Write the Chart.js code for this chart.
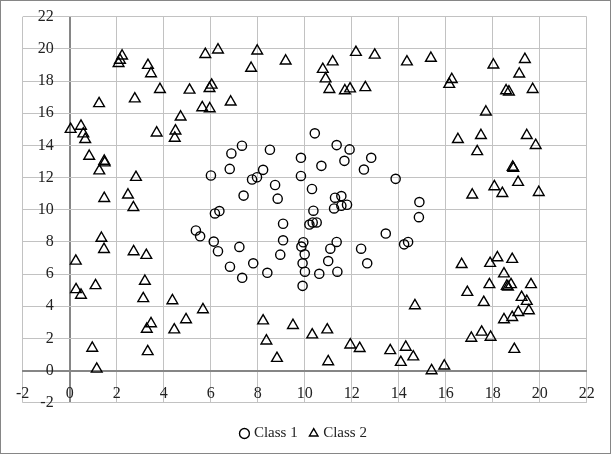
<!DOCTYPE html>
<html>
<head>
<meta charset="utf-8">
<script src="https://cdn.jsdelivr.net/npm/chart.js@4.4.0/dist/chart.umd.min.js"></script>
<style>
  html, body { margin: 0; padding: 0; background: #fff; }
  .box { width: 611px; height: 454px; box-sizing: border-box; border: 1px solid #868686; }
  canvas { display: block; }
</style>
</head>
<body>
<div class="box"><canvas id="myChart" width="609" height="452"></canvas></div>
<script>
// Class 1 (circles)
const class1X = [10.43, 7.33, 6.88, 8.52, 11.36, 11.91, 9.84, 12.83, 11.69, 10.71,
  6.81, 8.23, 12.52, 6.01, 7.97, 7.76, 9.84, 13.87, 8.74, 10.31,
  8.85, 7.4, 11.29, 11.56, 11.25, 11.56, 11.8, 10.37, 6.37, 6.18,
  9.08, 10.2, 10.34, 10.51, 13.45, 5.55, 5.37, 6.13, 9.08, 9.94,
  11.36, 14.23, 14.4, 9.86, 7.22, 6.31, 11.09, 12.4, 10.0, 8.96,
  6.82, 7.34, 7.81, 8.41, 9.91, 10.01, 9.91, 10.62, 11.0, 11.39,
  12.66, 14.88, 14.86];
const class1Y = [14.75, 13.98, 13.5, 13.73, 14.02, 13.75, 13.23, 13.23, 13.04, 12.73,
  12.54, 12.48, 12.5, 12.13, 12.02, 11.88, 12.1, 11.92, 11.54, 11.29,
  10.69, 10.88, 10.75, 10.85, 10.08, 10.25, 10.31, 9.94, 9.92, 9.77,
  9.13, 9.08, 9.21, 9.21, 8.52, 8.35, 8.71, 8.02, 8.1, 7.98,
  8.0, 7.85, 8.0, 7.71, 7.69, 7.42, 7.58, 7.58, 7.23, 7.21,
  6.46, 5.77, 6.67, 6.08, 6.67, 6.15, 5.27, 6.02, 6.81, 6.15,
  6.67, 10.48, 9.54];

// Class 2 (triangles)
const class2X = [0.04, 0.48, 0.58, 0.66, 1.25, 2.08, 2.14, 2.23, 3.33, 3.46,
  2.77, 3.84, 3.7, 4.72, 4.5, 4.47, 5.1, 5.77, 5.95, 5.64,
  5.96, 6.31, 6.04, 7.98, 7.72, 9.19, 6.85, 11.19, 10.77, 10.89,
  11.05, 11.71, 11.93, 12.58, 12.18, 12.98, 14.35, 15.37, 16.26, 16.15,
  18.03, 19.37, 19.13, 18.57, 18.69, 19.7, 17.71, 16.52, 17.5, 19.45,
  19.83, 17.34, 18.85, 18.88, 19.08, 18.07, 18.41, 17.13, 19.96, 0.83,
  1.47, 1.49, 1.26, 2.82, 1.47, 2.48, 2.71, 1.35, 1.46, 2.72,
  3.26, 0.26, 0.27, 0.48, 1.1, 3.2, 3.13, 4.37, 5.67, 4.95,
  3.46, 3.28, 4.45, 0.96, 3.32, 1.15, 8.23, 9.5, 8.37, 10.32,
  10.96, 8.82, 11.0, 11.94, 12.34, 13.64, 14.09, 14.3, 14.62, 14.69,
  15.4, 15.94, 16.68, 17.89, 18.2, 18.83, 18.48, 17.86, 18.6, 18.78,
  18.65, 19.63, 16.92, 17.62, 19.23, 19.45, 19.54, 19.09, 18.83, 18.48,
  17.53, 17.09, 17.91, 18.92];
const class2Y = [15.0, 15.2, 14.72, 14.37, 16.6, 19.1, 19.3, 19.56, 18.98, 18.46,
  16.9, 17.48, 14.78, 15.77, 14.9, 14.45, 17.44, 19.66, 17.54, 16.35,
  16.28, 19.94, 17.75, 19.87, 18.8, 19.25, 16.7, 19.2, 18.73, 18.14,
  17.48, 17.4, 17.52, 17.6, 19.79, 19.62, 19.2, 19.42, 18.1, 17.8,
  19.0, 19.35, 18.44, 17.4, 17.33, 17.48, 16.08, 14.37, 14.62, 14.62,
  14.0, 13.62, 12.65, 12.58, 11.71, 11.44, 11.02, 10.92, 11.08, 13.33,
  13.02, 12.92, 12.42, 12.02, 10.71, 10.92, 10.14, 8.23, 7.54, 7.4,
  7.17, 6.81, 5.04, 4.69, 5.29, 5.56, 4.48, 4.35, 3.79, 3.17,
  2.92, 2.58, 2.54, 1.4, 1.19, 0.1, 3.1, 2.81, 1.85, 2.23,
  2.54, 0.77, 0.56, 1.6, 1.38, 1.25, 0.52, 1.46, 0.86, 4.04,
  0.0, 0.29, 6.6, 6.67, 7.02, 6.92, 6.02, 5.35, 5.25, 5.35,
  5.2, 5.35, 4.87, 4.25, 4.56, 4.31, 3.73, 3.62, 3.31, 3.17,
  2.4, 2.02, 2.08, 1.33];

const axisTicks = [-2, 0, 2, 4, 6, 8, 10, 12, 14, 16, 18, 20, 22];

const gridColor = '#c2c2c2';
const axisColor = '#868686';
const serif = "'Liberation Serif', 'DejaVu Serif', serif";

function toPoints(xs, ys) {
    return xs.map((x, i) => ({ x: x, y: ys[i] }));
}

// axes sit inside the plot, so they should not take any room
function noRoom(scale) {
    if (scale.axis === 'y') scale.width = 0;
    scale.paddingLeft = 0;
    scale.paddingRight = 0;
    scale.paddingTop = 0;
    scale.paddingBottom = 0;
}

const ctx = document.getElementById('myChart');

new Chart(ctx, {
    type: 'scatter',
    data: {
        datasets: [{
            label: 'Class 1',
            data: toPoints(class1X, class1Y),
            pointStyle: 'circle',
            pointRadius: 4.6,
            borderColor: '#000',
            backgroundColor: 'rgba(255,255,255,0)',
            borderWidth: 1.4
        }, {
            label: 'Class 2',
            data: toPoints(class2X, class2Y),
            pointStyle: 'triangle',
            pointRadius: 6.2,
            borderColor: '#000',
            backgroundColor: 'rgba(255,255,255,0)',
            borderWidth: 1.4
        }]
    },
    options: {
        responsive: false,
        animation: false,
        layout: {
            padding: { left: 21.7, top: 15.7, right: 23.3, bottom: 2 }
        },
        plugins: {
            tooltip: { enabled: false },
            legend: {
                position: 'bottom',
                // empty title only keeps a gap between plot and legend
                title: {
                    display: true,
                    text: ' ',
                    font: { size: 1 },
                    padding: { top: 0, bottom: 8 }
                },
                labels: {
                    usePointStyle: true,
                    boxWidth: 4,
                    boxHeight: 7,
                    padding: 14,
                    color: '#222',
                    font: { family: serif, size: 15 }
                }
            }
        },
        scales: {
            x: {
                type: 'linear',
                position: { y: 0 },
                min: -2,
                max: 22,
                afterBuildTicks: (scale) => {
                    scale.ticks = axisTicks.map((v) => ({ value: v }));
                },
                afterFit: noRoom,
                grid: {
                    drawTicks: false,
                    color: (c) => c.tick && c.tick.value === 0 ? axisColor : gridColor,
                    lineWidth: (c) => c.tick && c.tick.value === 0 ? 2 : 1
                },
                border: { display: true, color: axisColor, width: 2 },
                ticks: {
                    autoSkip: false,
                    maxRotation: 0,
                    padding: 13.5,
                    color: '#222',
                    font: { family: serif, size: 16 }
                }
            },
            y: {
                type: 'linear',
                position: 'left',
                min: -2,
                max: 22,
                afterBuildTicks: (scale) => {
                    scale.ticks = axisTicks.map((v) => ({ value: v }));
                },
                afterFit: noRoom,
                grid: {
                    drawTicks: false,
                    color: gridColor,
                    lineWidth: 1
                },
                border: { display: false },
                ticks: {
                    mirror: true,
                    crossAlign: 'far',
                    padding: 15,
                    color: '#222',
                    font: { family: serif, size: 16 }
                }
            }
        }
    }
});
</script>
</body>
</html>
